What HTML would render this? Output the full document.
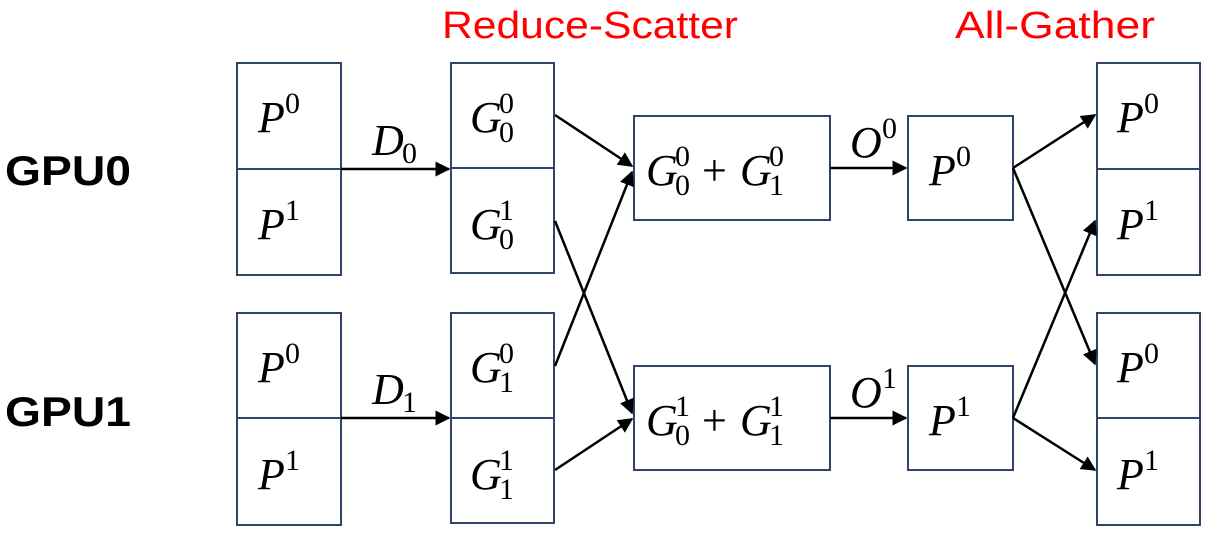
<!DOCTYPE html>
<html><head><meta charset="utf-8"><style>
html,body{margin:0;padding:0;background:#fff;}
svg{display:block;}
.m{font-family:"Liberation Serif",serif;font-style:italic;font-size:44px;fill:#000;}
.s{font-family:"Liberation Serif",serif;font-size:30px;fill:#000;}
.b{fill:#fff;stroke:#2f4468;stroke-width:2;}
.l{stroke:#000;stroke-width:2.5;fill:none;}
</style></head><body>
<svg width="1209" height="535" viewBox="0 0 1209 535" xmlns="http://www.w3.org/2000/svg">
<defs><marker id="a" viewBox="0 0 10 10" refX="9" refY="5" markerWidth="6" markerHeight="6" orient="auto"><path d="M0,0 L10,5 L0,10 z" fill="#000"/></marker></defs>
<text x="442" y="38" font-family="Liberation Sans,sans-serif" font-size="38" fill="#f00" textLength="296" lengthAdjust="spacingAndGlyphs">Reduce-Scatter</text>
<text x="955" y="38" font-family="Liberation Sans,sans-serif" font-size="38" fill="#f00" textLength="200" lengthAdjust="spacingAndGlyphs">All-Gather</text>
<text x="5" y="185" font-family="Liberation Sans,sans-serif" font-size="42" font-weight="bold" textLength="126" lengthAdjust="spacingAndGlyphs">GPU0</text>
<text x="5" y="426" font-family="Liberation Sans,sans-serif" font-size="42" font-weight="bold" textLength="126" lengthAdjust="spacingAndGlyphs">GPU1</text>
<rect class="b" x="237" y="63" width="104" height="212"/><line class="b" x1="237" y1="169" x2="341" y2="169"/>
<rect class="b" x="237" y="313" width="104" height="212"/><line class="b" x1="237" y1="418" x2="341" y2="418"/>
<rect class="b" x="451" y="63" width="103" height="210"/><line class="b" x1="451" y1="168" x2="554" y2="168"/>
<rect class="b" x="451" y="313" width="103" height="210"/><line class="b" x1="451" y1="418" x2="554" y2="418"/>
<rect class="b" x="634" y="116" width="196" height="104"/>
<rect class="b" x="634" y="366" width="196" height="104"/>
<rect class="b" x="908" y="116" width="105" height="104"/>
<rect class="b" x="908" y="366" width="105" height="104"/>
<rect class="b" x="1097" y="63" width="103" height="212"/><line class="b" x1="1097" y1="169" x2="1200" y2="169"/>
<rect class="b" x="1097" y="313" width="103" height="212"/><line class="b" x1="1097" y1="418" x2="1200" y2="418"/>
<line class="l" x1="341" y1="169" x2="449" y2="169" marker-end="url(#a)"/>
<line class="l" x1="341" y1="418" x2="449" y2="418" marker-end="url(#a)"/>
<line class="l" x1="555" y1="115" x2="632" y2="166" marker-end="url(#a)"/>
<line class="l" x1="555" y1="366" x2="632" y2="172" marker-end="url(#a)"/>
<line class="l" x1="555" y1="221" x2="632" y2="413" marker-end="url(#a)"/>
<line class="l" x1="555" y1="470" x2="632" y2="419" marker-end="url(#a)"/>
<line class="l" x1="830" y1="168" x2="906" y2="168" marker-end="url(#a)"/>
<line class="l" x1="830" y1="418" x2="906" y2="418" marker-end="url(#a)"/>
<line class="l" x1="1013" y1="168" x2="1095" y2="115" marker-end="url(#a)"/>
<line class="l" x1="1013" y1="168" x2="1095" y2="364" marker-end="url(#a)"/>
<line class="l" x1="1013" y1="418" x2="1095" y2="221" marker-end="url(#a)"/>
<line class="l" x1="1013" y1="418" x2="1095" y2="470" marker-end="url(#a)"/>
<g>
<text class="m" x="258" y="132">P</text><text class="s" x="285" y="113">0</text>
<text class="m" x="258" y="239">P</text><text class="s" x="285" y="220">1</text>
<text class="m" x="258" y="382">P</text><text class="s" x="285" y="363">0</text>
<text class="m" x="258" y="489">P</text><text class="s" x="285" y="470">1</text>
<text class="m" x="372" y="155">D</text><text class="s" x="402" y="163">0</text>
<text class="m" x="372" y="404">D</text><text class="s" x="402" y="412">1</text>
<text class="m" x="470" y="132">G</text><text class="s" x="499" y="113">0</text><text class="s" x="499" y="142">0</text>
<text class="m" x="470" y="239">G</text><text class="s" x="499" y="220">1</text><text class="s" x="499" y="249">0</text>
<text class="m" x="470" y="382">G</text><text class="s" x="499" y="363">0</text><text class="s" x="499" y="392">1</text>
<text class="m" x="470" y="489">G</text><text class="s" x="499" y="470">1</text><text class="s" x="499" y="499">1</text>
<text class="m" x="646" y="185">G</text><text class="s" x="675" y="166">0</text><text class="s" x="675" y="195">0</text>
<text x="702" y="185" font-family="Liberation Serif,serif" font-size="44">+</text>
<text class="m" x="740" y="185">G</text><text class="s" x="769" y="166">0</text><text class="s" x="769" y="195">1</text>
<text class="m" x="646" y="435">G</text><text class="s" x="675" y="416">1</text><text class="s" x="675" y="445">0</text>
<text x="702" y="435" font-family="Liberation Serif,serif" font-size="44">+</text>
<text class="m" x="740" y="435">G</text><text class="s" x="769" y="416">1</text><text class="s" x="769" y="445">1</text>
<text class="m" x="850" y="157">O</text><text class="s" x="882" y="138">0</text>
<text class="m" x="850" y="407">O</text><text class="s" x="882" y="388">1</text>
<text class="m" x="929" y="185">P</text><text class="s" x="956" y="166">0</text>
<text class="m" x="929" y="435">P</text><text class="s" x="956" y="416">1</text>
<text class="m" x="1117" y="132">P</text><text class="s" x="1144" y="113">0</text>
<text class="m" x="1117" y="239">P</text><text class="s" x="1144" y="220">1</text>
<text class="m" x="1117" y="382">P</text><text class="s" x="1144" y="363">0</text>
<text class="m" x="1117" y="489">P</text><text class="s" x="1144" y="470">1</text>
</g>
</svg>
</body></html>
